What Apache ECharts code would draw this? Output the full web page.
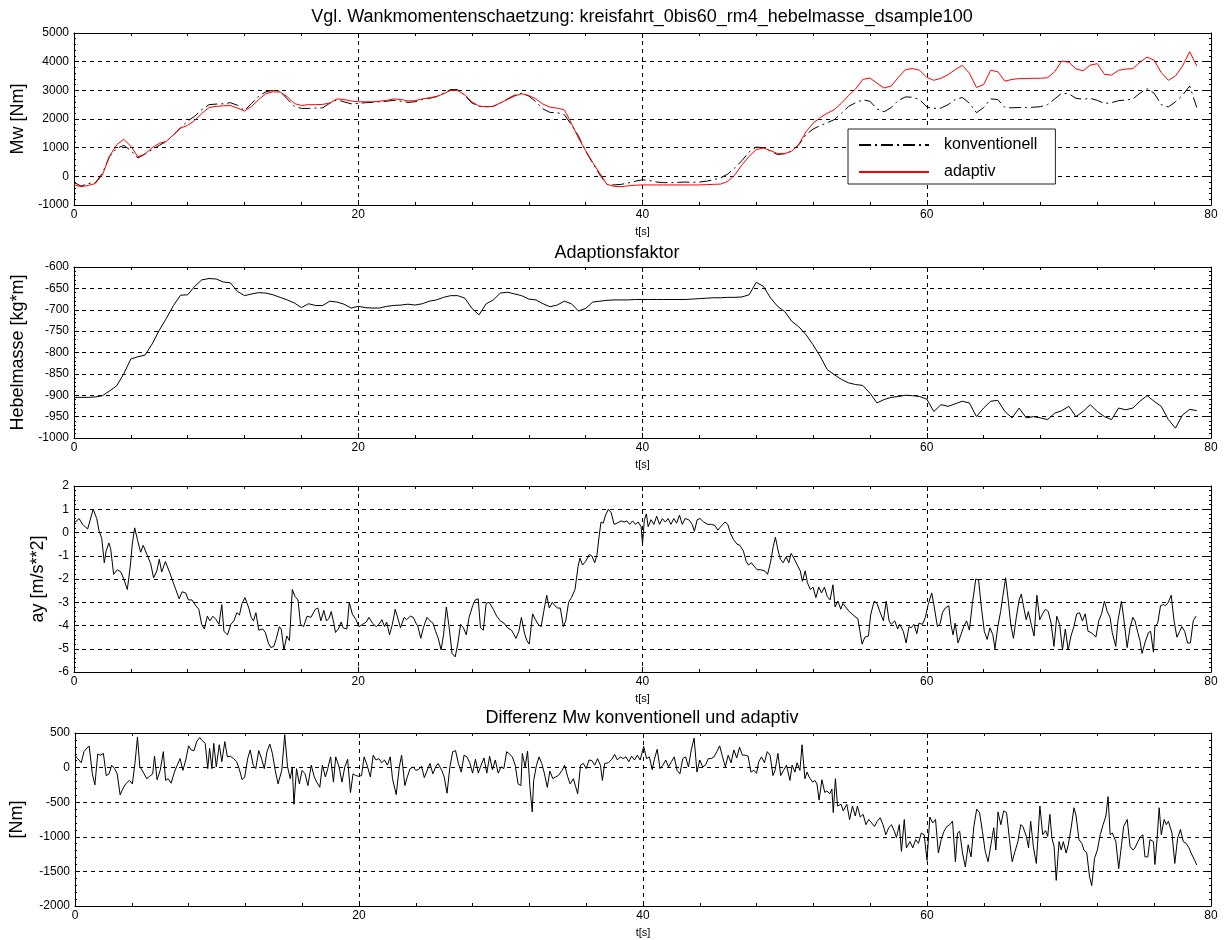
<!DOCTYPE html>
<html>
<head>
<meta charset="utf-8">
<script src="https://cdn.jsdelivr.net/npm/echarts@6/dist/echarts.min.js"></script>
<style>
html,body{margin:0;padding:0;background:#fff;}
#chart{width:1226px;height:940px;}
</style>
</head>
<body>
<div id="chart"></div>
<script>
// ---------------- DATA ----------------
const mainTitle = 'Vgl. Wankmomentenschaetzung: kreisfahrt_0bis60_rm4_hebelmasse_dsample100';
const subTitle2 = 'Adaptionsfaktor';
const subTitle4 = 'Differenz Mw konventionell und adaptiv';
const seriesNames = ['konventionell', 'adaptiv'];
const yNames = ['Mw [Nm]', 'Hebelmasse [kg*m]', 'ay [m/s**2]', '[Nm]'];
const xName = 't[s]';

// sampling grid of plot 1 and 2 (s)
const dtSlow = 0.5;
const nSlow = 159;

// Mw konventionell [Nm], every 0.5 s from 0 to 79 s
const mwKonv = [
  -210,-340,-250,-220,100,700,970,1080,900,640,
  780,930,1080,1220,1450,1700,1930,2100,2330,2500,
  2520,2530,2570,2480,2290,2550,2800,2950,3000,2970,
  2700,2440,2370,2370,2380,2390,2550,2670,2600,2530,
  2540,2570,2580,2600,2620,2650,2620,2580,2600,2680,
  2720,2780,2900,3030,3020,2820,2560,2440,2430,2440,
  2560,2700,2830,2900,2800,2600,2350,2230,2220,2150,
  1800,1400,880,460,50,-280,-300,-280,-230,-170,
  -120,-150,-200,-220,-220,-210,-200,-210,-200,-170,
  -120,-50,80,300,550,850,1020,1000,880,760,
  790,880,1100,1450,1650,1770,1870,1980,2200,2440,
  2570,2670,2620,2350,2250,2400,2650,2770,2760,2680,
  2420,2370,2380,2500,2680,2750,2550,2220,2400,2700,
  2680,2400,2390,2400,2400,2410,2430,2500,2700,2900,
  2880,2720,2690,2720,2650,2540,2570,2640,2660,2700,
  2900,3060,2900,2500,2420,2600,2830,3150,2400
];
// Mw adaptiv [Nm]
const mwAdapt = [
  -300,-360,-320,-250,50,700,1100,1290,1050,680,
  780,1000,1150,1220,1450,1680,1780,1950,2200,2400,
  2440,2460,2470,2380,2280,2440,2680,2880,2950,2940,
  2780,2540,2470,2500,2500,2510,2560,2700,2680,2630,
  2600,2600,2600,2620,2650,2700,2680,2630,2640,2700,
  2740,2780,2880,3000,2990,2840,2600,2450,2430,2440,
  2560,2680,2800,2880,2820,2700,2520,2410,2380,2320,
  1850,1330,900,480,100,-280,-350,-360,-330,-310,
  -300,-300,-300,-300,-300,-300,-300,-300,-300,-290,
  -280,-270,-180,50,400,700,930,990,900,790,
  790,880,1120,1550,1850,2050,2200,2330,2550,2820,
  3050,3380,3430,3250,3080,3150,3450,3720,3760,3700,
  3450,3350,3420,3550,3720,3870,3600,3100,3200,3700,
  3650,3320,3380,3410,3410,3420,3420,3440,3650,4020,
  3980,3750,3680,3880,3930,3560,3530,3700,3740,3760,
  3980,4160,4050,3620,3350,3500,3850,4350,3850
];
// Hebelmasse [kg*m]
const hebel = [
  -905,-905,-905,-904,-901,-890,-878,-850,-815,-810,
  -806,-780,-748,-720,-690,-666,-665,-645,-630,-627,
  -628,-635,-637,-657,-667,-663,-660,-661,-665,-671,
  -677,-684,-695,-686,-690,-690,-680,-682,-687,-696,
  -692,-695,-696,-696,-692,-690,-689,-687,-689,-686,
  -680,-677,-671,-667,-667,-673,-697,-712,-686,-677,
  -661,-659,-663,-667,-675,-677,-686,-693,-689,-680,
  -686,-703,-697,-682,-680,-678,-677,-677,-677,-676,
  -676,-676,-676,-676,-676,-676,-676,-675,-674,-673,
  -672,-672,-671,-671,-670,-665,-636,-645,-672,-692,
  -704,-727,-740,-758,-782,-809,-840,-852,-863,-871,
  -875,-877,-895,-918,-910,-905,-903,-900,-901,-903,
  -909,-938,-922,-926,-920,-914,-918,-950,-930,-914,
  -912,-938,-953,-930,-953,-950,-953,-957,-942,-936,
  -926,-950,-938,-922,-938,-950,-957,-930,-934,-930,
  -914,-901,-914,-926,-957,-977,-946,-933,-936
];
// ay [m/s**2] : [t, value]
const ayPts = [[0,0.4],[0.36,0.6],[0.6,0.35],[0.96,0.15],[1.35,1.0],[1.43,1.05],[1.6,0.6],[1.75,0.1],[1.95,-0.25],[2.13,-1.3],[2.26,-0.8],[2.45,-0.45],[2.58,-0.7],[2.79,-1.8],[3.05,-1.6],[3.3,-1.7],[3.5,-2.0],[3.75,-2.45],[3.96,-1.45],[4.1,-0.5],[4.27,0.2],[4.48,-0.35],[4.69,-0.85],[4.87,-0.55],[5.13,-0.95],[5.4,-1.35],[5.6,-1.95],[5.83,-1.65],[6.0,-1.15],[6.17,-1.7],[6.43,-1.25],[6.75,-1.75],[6.95,-2.1],[7.16,-2.45],[7.4,-2.85],[7.6,-2.55],[7.86,-2.6],[8.05,-2.9],[8.3,-2.9],[8.57,-3.15],[8.78,-3.3],[8.98,-3.95],[9.17,-4.15],[9.38,-3.6],[9.56,-3.8],[9.77,-3.6],[10.0,-3.75],[10.2,-3.95],[10.4,-3.1],[10.55,-4.25],[10.8,-4.4],[11.04,-3.95],[11.25,-3.8],[11.46,-3.45],[11.64,-3.55],[11.82,-3.05],[12.03,-2.8],[12.3,-3.25],[12.47,-3.65],[12.63,-3.8],[12.8,-3.45],[13.0,-4.2],[13.28,-4.15],[13.46,-4.3],[13.67,-4.75],[13.85,-4.95],[14.06,-4.9],[14.24,-4.55],[14.45,-4.05],[14.58,-4.15],[14.77,-5.05],[14.97,-4.45],[15.16,-4.65],[15.36,-2.45],[15.55,-2.75],[15.76,-2.9],[15.94,-3.95],[16.15,-4.05],[16.4,-3.6],[16.67,-3.65],[16.98,-3.3],[17.16,-3.25],[17.37,-3.8],[17.58,-3.35],[17.76,-3.8],[17.94,-3.7],[18.1,-3.4],[18.28,-3.9],[18.4,-4.3],[18.6,-4.15],[18.8,-3.85],[18.93,-4.1],[19.2,-4.15],[19.37,-3.0],[19.58,-3.5],[19.84,-3.75],[20.05,-4.05],[20.3,-3.95],[20.57,-3.85],[20.75,-3.65],[21.0,-3.9],[21.27,-4.05],[21.45,-3.95],[21.67,-3.75],[21.85,-4.05],[22.0,-3.85],[22.2,-4.4],[22.4,-3.95],[22.6,-3.3],[22.84,-3.8],[22.97,-4.1],[23.23,-3.65],[23.4,-3.75],[23.67,-3.6],[23.88,-3.65],[24.06,-3.9],[24.2,-4.05],[24.4,-4.55],[24.58,-4.1],[24.84,-3.65],[25.05,-3.8],[25.26,-3.9],[25.44,-4.25],[25.63,-4.55],[25.83,-5.05],[26.0,-4.4],[26.2,-3.2],[26.4,-4.1],[26.6,-5.2],[26.82,-5.35],[27.0,-4.8],[27.2,-3.95],[27.4,-4.1],[27.6,-4.4],[27.8,-3.65],[28.05,-3.15],[28.23,-2.9],[28.44,-2.85],[28.6,-4.1],[28.8,-4.2],[29.0,-3.05],[29.2,-3.0],[29.5,-3.3],[29.74,-3.6],[30.0,-3.8],[30.26,-3.9],[30.5,-4.1],[30.78,-4.2],[31.1,-4.55],[31.3,-4.25],[31.48,-3.65],[31.7,-4.35],[31.87,-4.65],[32.03,-4.8],[32.27,-3.5],[32.47,-3.75],[32.66,-3.95],[32.87,-4.05],[33.05,-3.4],[33.26,-2.7],[33.44,-3.25],[33.65,-3.0],[33.83,-3.15],[34.04,-3.25],[34.22,-3.25],[34.43,-4.05],[34.6,-3.8],[34.8,-3.0],[35.0,-2.8],[35.25,-2.45],[35.47,-1.45],[35.6,-1.1],[35.78,-1.4],[35.99,-1.25],[36.25,-0.95],[36.43,-1.0],[36.64,-1.3],[36.8,-0.95],[36.95,-0.15],[37.08,0.45],[37.24,0.4],[37.4,0.75],[37.6,1.0],[37.8,0.85],[38.0,0.35],[38.2,0.4],[38.5,0.5],[38.7,0.45],[38.9,0.5],[39.1,0.35],[39.3,0.5],[39.5,0.35],[39.7,0.45],[39.9,0.25],[40.0,-0.5],[40.13,0.55],[40.27,0.8],[40.4,0.25],[40.6,0.55],[40.8,0.35],[41.0,0.7],[41.2,0.35],[41.4,0.6],[41.6,0.45],[41.8,0.6],[42.0,0.35],[42.2,0.6],[42.4,0.4],[42.6,0.75],[42.8,0.35],[43.0,0.6],[43.25,0.55],[43.5,0.35],[43.65,0.05],[43.85,0.55],[44.05,0.6],[44.3,0.45],[44.6,0.35],[44.85,0.35],[45.1,0.3],[45.3,0.1],[45.5,0.25],[45.8,0.45],[46.0,0.35],[46.2,-0.05],[46.4,-0.3],[46.65,-0.5],[46.85,-0.55],[47.1,-0.8],[47.3,-1.25],[47.45,-1.4],[47.66,-1.3],[47.85,-1.45],[48.07,-1.6],[48.3,-1.6],[48.6,-1.65],[48.8,-1.8],[49.0,-1.3],[49.2,-0.6],[49.35,-0.2],[49.55,-0.8],[49.7,-1.15],[49.9,-1.3],[50.1,-1.05],[50.3,-1.3],[50.45,-0.9],[50.65,-1.1],[50.85,-1.35],[51.1,-1.65],[51.25,-2.1],[51.45,-1.65],[51.6,-2.15],[51.8,-2.45],[52.0,-2.35],[52.2,-2.8],[52.4,-2.35],[52.6,-2.6],[52.8,-2.35],[53.0,-2.75],[53.2,-2.9],[53.4,-2.25],[53.55,-3.2],[53.75,-2.95],[53.95,-3.3],[54.1,-3.05],[54.35,-3.25],[54.55,-3.4],[54.75,-3.5],[54.9,-3.6],[55.15,-3.7],[55.3,-4.25],[55.45,-4.8],[55.65,-4.5],[55.9,-4.45],[56.05,-3.55],[56.3,-2.95],[56.5,-3.05],[56.7,-3.4],[56.95,-3.8],[57.15,-2.95],[57.35,-3.8],[57.5,-3.95],[57.75,-3.8],[57.95,-4.15],[58.1,-3.95],[58.35,-4.25],[58.55,-4.75],[58.75,-4.05],[58.9,-4.1],[59.1,-3.95],[59.3,-4.35],[59.45,-3.9],[59.7,-3.95],[59.9,-3.65],[60.1,-3.1],[60.35,-2.6],[60.5,-3.1],[60.75,-4.05],[60.95,-3.9],[61.1,-3.45],[61.3,-3.25],[61.55,-3.15],[61.7,-3.95],[61.85,-4.4],[62.0,-3.9],[62.2,-4.75],[62.4,-4.4],[62.6,-4.05],[62.8,-3.8],[63.0,-4.2],[63.2,-3.1],[63.45,-2.0],[63.65,-2.05],[63.85,-3.25],[64.05,-4.25],[64.25,-4.6],[64.45,-4.1],[64.65,-4.4],[64.8,-5.0],[65.0,-4.05],[65.2,-3.4],[65.35,-2.75],[65.55,-1.95],[65.75,-3.0],[65.9,-3.9],[66.1,-4.55],[66.3,-3.65],[66.5,-2.9],[66.65,-2.65],[66.8,-3.15],[67.0,-3.75],[67.15,-3.4],[67.35,-3.95],[67.55,-4.45],[67.75,-2.7],[67.95,-3.75],[68.15,-3.5],[68.35,-3.3],[68.55,-3.4],[68.75,-3.9],[68.95,-4.9],[69.15,-3.6],[69.35,-3.95],[69.55,-5.05],[69.75,-4.15],[69.95,-5.05],[70.15,-4.45],[70.35,-4.05],[70.55,-3.5],[70.75,-3.45],[70.95,-3.8],[71.15,-3.5],[71.35,-4.25],[71.55,-4.3],[71.75,-4.4],[71.9,-4.5],[72.1,-3.8],[72.3,-3.5],[72.5,-2.95],[72.7,-3.4],[72.9,-3.65],[73.05,-4.3],[73.3,-4.9],[73.45,-3.8],[73.7,-2.95],[73.85,-3.65],[74.1,-4.95],[74.3,-4.1],[74.5,-3.65],[74.65,-3.8],[74.85,-4.3],[75.0,-4.65],[75.15,-5.2],[75.35,-4.75],[75.6,-4.3],[75.75,-4.25],[75.95,-5.15],[76.05,-4.05],[76.25,-3.9],[76.45,-3.15],[76.65,-3.1],[76.8,-3.15],[77.0,-3.0],[77.2,-2.7],[77.4,-3.8],[77.6,-4.5],[77.8,-4.25],[77.95,-4.05],[78.15,-4.25],[78.35,-4.75],[78.55,-4.75],[78.75,-3.8],[78.95,-3.6]];
// Differenz Mw [Nm] : [t, value]
const diffPts = [[0,180],[0.18,130],[0.44,70],[0.63,230],[0.83,280],[1.0,310],[1.22,-90],[1.4,-250],[1.6,195],[1.8,180],[2.0,205],[2.2,-115],[2.4,-90],[2.58,35],[2.79,-15],[2.97,-90],[3.18,-395],[3.36,-310],[3.57,-235],[3.83,-185],[4.04,-235],[4.22,60],[4.4,440],[4.56,20],[4.8,-65],[5.05,-160],[5.26,-125],[5.47,-90],[5.6,165],[5.78,-175],[6.0,-40],[6.22,230],[6.38,-185],[6.56,-160],[6.77,-225],[7.0,-65],[7.2,35],[7.4,130],[7.6,-40],[7.8,110],[8.0,315],[8.18,255],[8.38,245],[8.57,375],[8.78,435],[8.96,390],[9.17,350],[9.35,-15],[9.48,280],[9.64,-15],[9.77,350],[9.95,10],[10.16,330],[10.34,85],[10.55,375],[10.73,155],[10.94,165],[11.17,130],[11.38,85],[11.56,-15],[11.77,-175],[11.95,-135],[12.16,130],[12.34,255],[12.55,35],[12.73,-15],[12.94,245],[13.15,120],[13.33,-15],[13.52,230],[13.72,340],[13.9,205],[14.1,-40],[14.3,-235],[14.56,-40],[14.77,475],[14.97,10],[15.16,-160],[15.3,10],[15.42,-530],[15.6,-15],[15.8,-235],[15.99,-40],[16.2,-90],[16.4,-260],[16.64,35],[16.85,-135],[17.03,-210],[17.24,-285],[17.42,35],[17.63,-135],[17.8,-15],[18.0,155],[18.2,-210],[18.36,155],[18.6,10],[18.8,-210],[19.0,10],[19.2,120],[19.4,-360],[19.58,-90],[19.77,-115],[19.97,-125],[20.18,-115],[20.36,155],[20.57,35],[20.8,-135],[21.0,180],[21.2,110],[21.4,130],[21.6,70],[21.8,110],[22.0,35],[22.2,155],[22.36,-160],[22.62,-390],[22.84,10],[23.0,180],[23.23,-260],[23.4,-135],[23.6,-15],[23.82,10],[24.0,-40],[24.2,-25],[24.4,20],[24.6,-145],[24.8,-40],[25.0,60],[25.2,-90],[25.4,10],[25.57,60],[25.83,-40],[26.0,-135],[26.2,-370],[26.4,10],[26.6,230],[26.8,245],[27.0,60],[27.2,-65],[27.4,180],[27.6,155],[27.8,70],[28.0,-80],[28.2,120],[28.4,-80],[28.6,35],[28.8,140],[29.0,-80],[29.2,165],[29.4,-30],[29.6,110],[29.8,-80],[30.0,10],[30.2,-15],[30.4,230],[30.6,195],[30.8,155],[31.0,35],[31.2,-235],[31.4,-260],[31.5,205],[31.7,10],[31.87,240],[32.03,-260],[32.2,-640],[32.3,-185],[32.5,35],[32.68,155],[32.87,60],[33.05,-80],[33.26,-285],[33.44,-50],[33.65,-160],[33.83,-135],[34.04,-115],[34.3,-40],[34.48,35],[34.7,-135],[34.87,-235],[35.1,-160],[35.2,-135],[35.4,-380],[35.6,35],[35.8,60],[36.0,-15],[36.2,110],[36.4,100],[36.6,35],[36.8,130],[37.0,35],[37.14,-185],[37.3,60],[37.56,70],[37.8,120],[38.0,190],[38.2,110],[38.4,155],[38.6,130],[38.8,155],[39.0,85],[39.2,165],[39.4,110],[39.6,180],[39.8,110],[40.05,305],[40.25,130],[40.45,155],[40.65,-30],[40.8,120],[41.0,265],[41.2,-15],[41.4,35],[41.6,110],[41.8,10],[42.0,85],[42.2,155],[42.4,-40],[42.6,-90],[42.8,130],[43.0,155],[43.2,10],[43.4,255],[43.6,425],[43.8,-65],[44.0,110],[44.2,10],[44.4,35],[44.6,130],[44.8,130],[45.0,155],[45.2,230],[45.4,315],[45.6,155],[45.8,10],[46.0,180],[46.2,70],[46.4,255],[46.6,140],[46.8,295],[47.0,180],[47.2,180],[47.4,165],[47.6,-65],[47.8,-40],[48.0,-80],[48.15,85],[48.35,155],[48.55,70],[48.75,230],[48.95,180],[49.15,-115],[49.3,-40],[49.5,205],[49.7,-115],[49.9,-40],[50.1,35],[50.35,-185],[50.5,35],[50.7,-65],[50.85,70],[51.05,-40],[51.2,330],[51.4,-160],[51.55,-65],[51.7,-135],[51.95,-210],[52.1,-185],[52.25,-235],[52.4,-470],[52.6,-175],[52.8,-360],[52.95,-335],[53.15,-380],[53.3,-310],[53.4,-650],[53.55,-160],[53.7,-555],[53.95,-530],[54.1,-625],[54.35,-530],[54.55,-750],[54.75,-555],[54.95,-700],[55.1,-555],[55.3,-715],[55.5,-675],[55.7,-825],[55.9,-750],[56.1,-800],[56.3,-850],[56.5,-775],[56.7,-725],[56.9,-825],[57.1,-970],[57.3,-870],[57.5,-825],[57.7,-920],[57.85,-1010],[58.05,-825],[58.2,-1210],[58.4,-750],[58.55,-1160],[58.8,-1070],[59.0,-1160],[59.2,-1040],[59.4,-1095],[59.6,-945],[59.8,-970],[60.0,-1340],[60.2,-715],[60.4,-800],[60.6,-750],[60.8,-1235],[61.0,-1040],[61.2,-920],[61.4,-850],[61.6,-825],[61.8,-775],[62.0,-1360],[62.15,-945],[62.3,-920],[62.5,-1235],[62.7,-1435],[62.9,-1115],[63.1,-1290],[63.3,-850],[63.5,-600],[63.7,-650],[63.9,-920],[64.1,-1210],[64.3,-1360],[64.5,-1115],[64.7,-870],[64.85,-1190],[65.0,-640],[65.2,-825],[65.4,-625],[65.6,-650],[65.8,-1020],[66.0,-1360],[66.2,-1210],[66.4,-1070],[66.6,-825],[66.75,-850],[67.0,-995],[67.15,-1160],[67.3,-775],[67.5,-1160],[67.7,-1385],[67.95,-555],[68.15,-970],[68.35,-910],[68.5,-995],[68.65,-675],[68.8,-1020],[68.95,-1140],[69.1,-1630],[69.3,-1070],[69.45,-1190],[69.6,-1070],[69.8,-1235],[69.95,-1115],[70.15,-870],[70.35,-580],[70.5,-700],[70.7,-1040],[70.9,-1095],[71.05,-1190],[71.25,-1235],[71.45,-1580],[71.6,-1705],[71.8,-1310],[72.0,-1190],[72.2,-970],[72.4,-825],[72.6,-700],[72.75,-420],[72.9,-970],[73.05,-945],[73.3,-1070],[73.5,-1460],[73.7,-1115],[73.85,-850],[74.1,-750],[74.3,-1140],[74.5,-1190],[74.65,-1160],[74.85,-1070],[75.05,-995],[75.2,-970],[75.35,-1290],[75.55,-1290],[75.7,-1040],[75.95,-1070],[76.05,-1400],[76.2,-1040],[76.35,-580],[76.5,-970],[76.7,-750],[76.85,-825],[77.0,-775],[77.25,-945],[77.45,-1385],[77.65,-1020],[77.85,-895],[78.05,-1070],[78.25,-1095],[78.45,-1160],[78.6,-1235],[78.85,-1340],[79.0,-1410]];

// axis ranges [min, max, interval]
const xRange = [0, 80, 20];
const yRanges = [[-1000, 5000, 1000], [-1000, -600, 50], [-6, 2, 1], [-2000, 500, 500]];

// ---------------- LAYOUT / STYLE ----------------
const FONT = '"Liberation Sans", Arial, Helvetica, sans-serif';
const grids = [
  {left: 74, right: 15, top: 33, height: 172},
  {left: 74, right: 15, top: 267, height: 171},
  {left: 74, right: 15, top: 486, height: 186},
  {left: 74, right: 15, top: 733, height: 173}
];
const yNameGaps = [43, 43, 25, 49];

const pair = (arr) => arr.map((v, i) => [i * dtSlow, v]);
const plainNum = (v) => String(v);

const black = '#000';
const xAxes = [], yAxes = [];
grids.forEach((g, i) => {
  xAxes.push({
    gridIndex: i, type: 'value', position: 'bottom',
    min: xRange[0], max: xRange[1], interval: xRange[2],
    axisLine: {show: true, onZero: false, lineStyle: {color: black, width: 1}},
    axisTick: {show: true, inside: true, length: 5, lineStyle: {color: black}},
    minorTick: {show: true, splitNumber: 5, length: 3, lineStyle: {color: black}},
    axisLabel: {color: black, fontSize: 12, fontFamily: FONT, margin: 4, formatter: plainNum},
    splitLine: {show: true, lineStyle: {color: black, width: 1, type: [4, 4]}},
    name: xName, nameLocation: 'middle', nameGap: 21,
    nameTextStyle: {color: black, fontSize: 11, fontFamily: FONT}
  });
  xAxes.push({
    gridIndex: i, type: 'value', position: 'top',
    min: xRange[0], max: xRange[1], interval: xRange[2],
    axisLine: {show: true, onZero: false, lineStyle: {color: black, width: 1}},
    axisTick: {show: true, inside: true, length: 5, lineStyle: {color: black}},
    minorTick: {show: true, splitNumber: 5, length: 3, lineStyle: {color: black}},
    axisLabel: {show: false}, splitLine: {show: false}
  });
  const r = yRanges[i];
  yAxes.push({
    gridIndex: i, type: 'value', position: 'left',
    min: r[0], max: r[1], interval: r[2],
    axisLine: {show: true, onZero: false, lineStyle: {color: black, width: 1}},
    axisTick: {show: true, inside: true, length: 5, lineStyle: {color: black}},
    minorTick: {show: true, splitNumber: 5, length: 2, lineStyle: {color: black}},
    axisLabel: {color: black, fontSize: 12, fontFamily: FONT, margin: 5, formatter: plainNum},
    splitLine: {show: true, lineStyle: {color: black, width: 1, type: [4, 4]}},
    name: yNames[i], nameLocation: 'middle', nameGap: yNameGaps[i], nameRotate: 90,
    nameTextStyle: {color: black, fontSize: 18, fontFamily: FONT}
  });
  yAxes.push({
    gridIndex: i, type: 'value', position: 'right',
    min: r[0], max: r[1], interval: r[2],
    axisLine: {show: true, onZero: false, lineStyle: {color: black, width: 1}},
    axisTick: {show: true, inside: true, length: 5, lineStyle: {color: black}},
    minorTick: {show: true, splitNumber: 5, length: 2, lineStyle: {color: black}},
    axisLabel: {show: false}, splitLine: {show: false}
  });
});

const lineBase = {type: 'line', symbol: 'none', showSymbol: false, animation: false, smooth: false};

const option = {
  animation: false,
  backgroundColor: '#fff',
  textStyle: {fontFamily: FONT},
  grid: grids,
  xAxis: xAxes,
  yAxis: yAxes,
  legend: {
    data: seriesNames,
    orient: 'vertical',
    left: 848, top: 129,
    padding: [8, 18, 4, 10],
    itemGap: 11,
    itemWidth: 70, itemHeight: 14,
    backgroundColor: '#fff',
    borderColor: '#222', borderWidth: 1, borderRadius: 0,
    itemStyle: {opacity: 0, borderWidth: 0},
    textStyle: {color: black, fontSize: 16, fontFamily: FONT, padding: [0, 0, 0, 10]},
    selectedMode: false
  },
  graphic: [
    {type: 'text', x: 642, y: 17, style: {text: mainTitle, fill: black, fontSize: 18, fontFamily: FONT, textAlign: 'center', textVerticalAlign: 'middle'}},
    {type: 'text', x: 617, y: 253, style: {text: subTitle2, fill: black, fontSize: 18, fontFamily: FONT, textAlign: 'center', textVerticalAlign: 'middle'}},
    {type: 'text', x: 642, y: 718, style: {text: subTitle4, fill: black, fontSize: 18, fontFamily: FONT, textAlign: 'center', textVerticalAlign: 'middle'}}
  ],
  series: [
    Object.assign({}, lineBase, {
      name: seriesNames[0], xAxisIndex: 0, yAxisIndex: 0,
      data: pair(mwKonv.slice(0, nSlow)),
      lineStyle: {color: black, width: 1, type: [12, 4, 2, 4]},
      itemStyle: {color: black}
    }),
    Object.assign({}, lineBase, {
      name: seriesNames[1], xAxisIndex: 0, yAxisIndex: 0,
      data: pair(mwAdapt.slice(0, nSlow)),
      lineStyle: {color: '#ff0000', width: 1},
      itemStyle: {color: '#ff0000'}
    }),
    Object.assign({}, lineBase, {
      name: 'Hebelmasse', xAxisIndex: 2, yAxisIndex: 2,
      data: pair(hebel.slice(0, nSlow)),
      lineStyle: {color: black, width: 1}
    }),
    Object.assign({}, lineBase, {
      name: 'ay', xAxisIndex: 4, yAxisIndex: 4,
      data: ayPts,
      lineStyle: {color: black, width: 1}
    }),
    Object.assign({}, lineBase, {
      name: 'Differenz', xAxisIndex: 6, yAxisIndex: 6,
      data: diffPts,
      lineStyle: {color: black, width: 1}
    })
  ]
};

const chart = echarts.init(document.getElementById('chart'), null, {renderer: 'canvas'});
chart.setOption(option);
</script>
</body>
</html>
